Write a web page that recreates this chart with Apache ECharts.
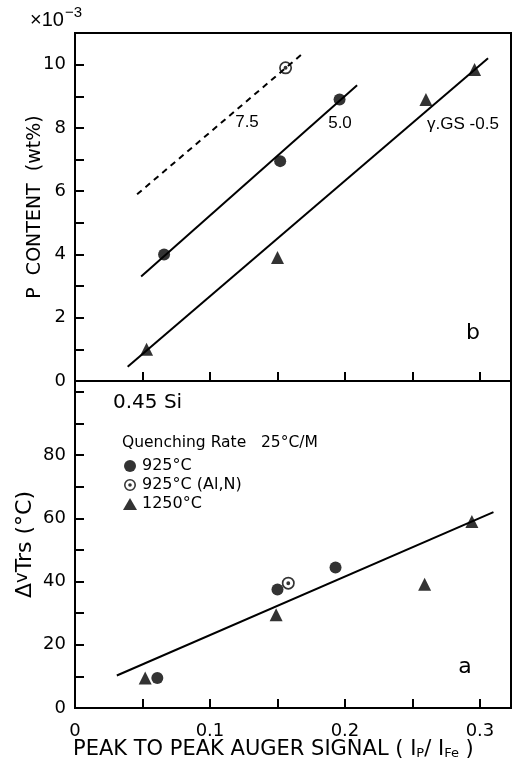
<!DOCTYPE html>
<html>
<head>
<meta charset="utf-8">
<script src="https://cdn.jsdelivr.net/npm/echarts@6/dist/echarts.min.js"></script>
<style>
html, body { margin: 0; padding: 0; background: #fff; }
#chart { width: 520px; height: 763px; }
</style>
</head>
<body>
<div id="chart"></div>
<script>
// panel b : P content (x10^-3 wt%) against auger signal
const bFilled = [[0.066, 4.0], [0.152, 6.95], [0.196, 8.9]]
const bOpen = [[0.156, 9.9]]
const bTri = [[0.053, 1.0], [0.150, 3.9], [0.260, 8.9], [0.296, 9.85]]
const fit75 = [[0.046, 5.9], [0.170, 10.4]]
const fit50 = [[0.049, 3.3], [0.209, 9.35]]
const fitGS = [[0.039, 0.45], [0.306, 10.2]]

// panel a : ΔvTrs against auger signal
const aFilled = [[0.061, 9.5], [0.150, 37.5], [0.193, 44.5]]
const aOpen = [[0.158, 39.5]]
const aTri = [[0.052, 9.5], [0.149, 29.5], [0.259, 39.2], [0.294, 59]]
const fitA = [[0.031, 10.3], [0.310, 62]]

const xLabels = [0, 0.1, 0.2, 0.3]
const bLabels = [0, 2, 4, 6, 8, 10]
const aLabels = [0, 20, 40, 60, 80]

const FONT = 'DejaVu Sans, sans-serif'
const NARROW = 'Liberation Sans, Arial, sans-serif'
const ringDot = 'path://M10,0A10,10 0 1,1 10,20A10,10 0 1,1 10,0ZM10,2.6A7.4,7.4 0 1,0 10,17.4A7.4,7.4 0 1,0 10,2.6ZM10,7A3,3 0 1,1 10,13A3,3 0 1,1 10,7Z'

const has = (list, v) => list.some(t => Math.abs(t - v) < 1e-6)

const chart = echarts.init(document.getElementById('chart'))

const tick = { show: true, inside: true, length: 9, lineStyle: { color: '#000', width: 2 } }
const minor = (n) => ({ show: true, splitNumber: n, length: 9, lineStyle: { color: '#000', width: 2 } })
const line = { show: true, onZero: false, lineStyle: { color: '#000', width: 2 } }

const scatter = (name, data, symbol, size, gi) => ({
    type: 'scatter', name, data, symbol, symbolSize: size,
    xAxisIndex: gi, yAxisIndex: gi,
    itemStyle: { color: '#000' }, z: 5,
})
const fit = (data, gi, dashed) => ({
    type: 'line', data, xAxisIndex: gi, yAxisIndex: gi,
    showSymbol: false, silent: true,
    lineStyle: { color: '#000', width: 2, type: dashed ? [6, 5] : 'solid' },
})
const txt = (text, x, y, size, font, align) => ({
    type: 'text',
    style: { text, x, y, align: align || 'center', verticalAlign: 'middle', font: size + 'px ' + (font || FONT), fill: '#000' },
})

const option = {
    animation: false,
    backgroundColor: '#fff',
    textStyle: { fontFamily: FONT, color: '#000' },
    grid: [
        { left: 75, right: 9, top: 33, height: 348, show: true, borderColor: '#000', borderWidth: 2 },
        { left: 75, right: 9, top: 381, bottom: 55, show: true, borderColor: '#000', borderWidth: 2 },
    ],
    xAxis: [
        {
            gridIndex: 0, type: 'value', min: 0, max: 0.323, interval: 0.05,
            axisLine: line, axisTick: tick, axisLabel: { show: false }, splitLine: { show: false },
        },
        {
            gridIndex: 1, type: 'value', min: 0, max: 0.323, interval: 0.05,
            axisLine: line, axisTick: tick, splitLine: { show: false },
            axisLabel: {
                color: '#000', fontSize: 18, fontFamily: FONT, margin: 14,
                formatter: v => has(xLabels, v) ? String(+v.toFixed(1)) : '',
            },
        },
    ],
    yAxis: [
        {
            gridIndex: 0, type: 'value', min: 0, max: 11, interval: 2,
            axisLine: line, axisTick: tick, minorTick: minor(2), splitLine: { show: false },
            axisLabel: {
                color: '#000', fontSize: 18, fontFamily: FONT, margin: 9,
                formatter: v => has(bLabels, v) ? String(v) : '',
            },
            name: 'P  CONTENT  (wt%)', nameLocation: 'middle', nameGap: 30, nameMoveOverlap: false,
            nameTextStyle: { fontSize: 19, fontFamily: FONT, color: '#000' },
        },
        {
            gridIndex: 1, type: 'value', min: 0, max: 103.5, interval: 20,
            axisLine: line, axisTick: tick, minorTick: minor(2), splitLine: { show: false },
            axisLabel: {
                color: '#000', fontSize: 18, fontFamily: FONT, margin: 9,
                formatter: v => has(aLabels, v) ? String(v) : '',
            },
            name: 'Δ{v|v}Trs (°C)', nameLocation: 'middle', nameGap: 38, nameMoveOverlap: false,
            nameTextStyle: {
                fontSize: 22, fontFamily: FONT, color: '#000',
                rich: { v: { fontSize: 18, fontFamily: FONT, color: '#000', padding: [0, 0, 6, 0] } },
            },
        },
    ],
    legend: {
        data: ['925°C', '925°C (Al,N)', '1250°C'],
        orient: 'vertical', left: 118, top: 453,
        itemWidth: 14, itemHeight: 12, itemGap: 3,
        textStyle: { fontSize: 16, lineHeight: 15, fontFamily: FONT, color: '#000' },
        selectedMode: false,
    },
    graphic: [
        {
            type: 'text',
            style: {
                text: '{m|×10}{s|−3}', x: 30, y: 20, verticalAlign: 'middle',
                rich: {
                    m: { fontSize: 20, fontFamily: NARROW, fill: '#000' },
                    s: { fontSize: 15, fontFamily: NARROW, fill: '#000', padding: [0, 0, 14, 1] },
                },
            },
        },
        txt('7.5', 247, 122, 17, NARROW),
        txt('5.0', 340, 123, 17, NARROW),
        txt('γ.GS -0.5', 463, 124, 17, NARROW),
        txt('b', 473, 333, 22),
        txt('a', 465, 667, 22),
        txt('0.45 Si', 113, 403, 20, FONT, 'left'),
        txt('Quenching Rate   25°C/M', 122, 443, 15.5, FONT, 'left'),
        {
            type: 'text',
            style: {
                text: '{t|PEAK TO PEAK AUGER SIGNAL ( I}{s|P}{t|/ I}{s|Fe}{t| )}',
                x: 73, y: 750, verticalAlign: 'middle',
                rich: {
                    t: { fontSize: 21, fontFamily: FONT, fill: '#000' },
                    s: { fontSize: 13, fontFamily: FONT, fill: '#000', padding: [8, 0, 0, 0] },
                },
            },
        },
    ],
    series: [
        fit(fit75, 0, true),
        fit(fit50, 0, false),
        fit(fitGS, 0, false),
        scatter('b925', bFilled, 'circle', 12, 0),
        scatter('b925AlN', bOpen, ringDot, 13, 0),
        scatter('b1250', bTri, 'triangle', 13, 0),

        fit(fitA, 1, false),
        scatter('925°C', aFilled, 'circle', 12, 1),
        scatter('925°C (Al,N)', aOpen, ringDot, 13, 1),
        scatter('1250°C', aTri, 'triangle', 13, 1),
    ],
}

chart.setOption(option)
</script>
</body>
</html>
